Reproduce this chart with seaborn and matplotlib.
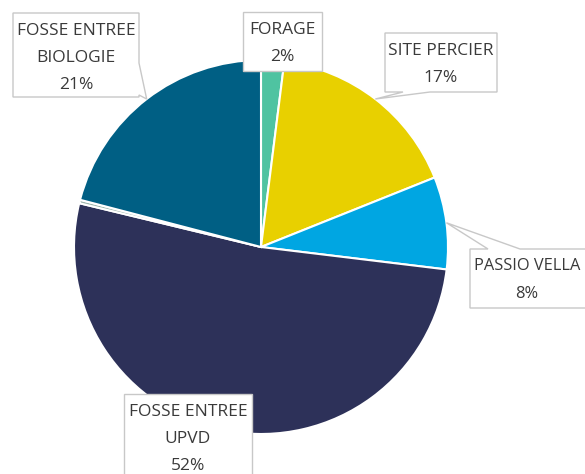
import matplotlib
matplotlib.use("Agg")
import matplotlib.pyplot as plt
from matplotlib.patches import Polygon
import numpy as np
import seaborn as sns

# data (clockwise from 12 o'clock)
categories = ["FORAGE", "SITE PERCIER", "PASSIO VELLA",
              "FOSSE ENTREE\nUPVD", "", "FOSSE ENTREE\nBIOLOGIE"]
values = [2, 17, 8, 52, 0.3, 21]
colors = ["#4FC3A1", "#E8D000", "#00A6E2", "#2D3159", "#9DB5AC", "#005F84"]

sns.set_theme(style="white")
plt.rcParams["font.family"] = ["Open Sans", "DejaVu Sans"]

W, H = 585, 474
CX, CY, R = 261, 247, 187   # pie centre / radius in pixel coords (y down)
TXT = "#3A3A3A"
EDGE = "#C8C8C8"

# label boxes: (left, top, right, bottom) in px, pointer side + span
boxes = {
    "FORAGE": dict(rect=(243, 12, 322, 71), ptr=None),
    "SITE PERCIER": dict(rect=(385, 33, 497, 92), ptr=("bottom", 403, 430)),
    "PASSIO VELLA": dict(rect=(470, 249, 600, 308), ptr=("top", 488, 520)),
    "FOSSE ENTREE\nUPVD": dict(rect=(124, 394, 252, 500), ptr=None),
    "FOSSE ENTREE\nBIOLOGIE": dict(rect=(13, 13, 139, 97), ptr=("right", 63, 95)),
}
# the right-hand label sits against the edge: nudge and shrink it to fit
text_x = {"PASSIO VELLA": 527}
text_size = {"PASSIO VELLA": 11.8}


def fy(y):
    return H - y


fig = plt.figure(figsize=(W / 100, H / 100), dpi=100)
ax = fig.add_axes([0, 0, 1, 1])

ax.pie(values, colors=colors, startangle=90, counterclock=False,
       center=(CX, fy(CY)), radius=R,
       wedgeprops=dict(edgecolor="white", linewidth=1.5))
ax.set_xlim(0, W)
ax.set_ylim(0, H)
ax.set_aspect("equal")
ax.axis("off")

total = sum(values)
cum = np.cumsum([0] + values)
for i, (cat, v) in enumerate(zip(categories, values)):
    if cat not in boxes:
        continue
    mid = (cum[i] + v / 2) / total
    ang = np.deg2rad(90 - 360 * mid)
    tip = (CX + R * np.cos(ang), fy(CY) + R * np.sin(ang))

    L, T, Rr, B = boxes[cat]["rect"]
    T, B = fy(T), fy(B)
    ptr = boxes[cat]["ptr"]
    if ptr is None:
        verts = [(L, T), (Rr, T), (Rr, B), (L, B)]
    elif ptr[0] == "bottom":
        verts = [(L, T), (Rr, T), (Rr, B), (ptr[2], B), tip, (ptr[1], B), (L, B)]
    elif ptr[0] == "top":
        verts = [(L, T), (ptr[1], T), tip, (ptr[2], T), (Rr, T), (Rr, B), (L, B)]
    else:  # right
        verts = [(L, T), (Rr, T), (Rr, fy(ptr[1])), tip, (Rr, fy(ptr[2])), (Rr, B), (L, B)]
    ax.add_patch(Polygon(verts, closed=True, facecolor="white",
                         edgecolor=EDGE, linewidth=1.0, zorder=5))

    pct = f"{round(v / total * 100):.0f}%"
    lines = cat.split("\n") + [pct]
    cx = text_x.get(cat, (L + Rr) / 2)
    top = boxes[cat]["rect"][1]
    for j, line in enumerate(lines):
        ax.text(cx, fy(top + 17.5 + 27.3 * j), line, ha="center", va="center",
                fontsize=text_size.get(cat, 12.5), color=TXT, zorder=6)

fig.savefig("out.png", dpi=100)
